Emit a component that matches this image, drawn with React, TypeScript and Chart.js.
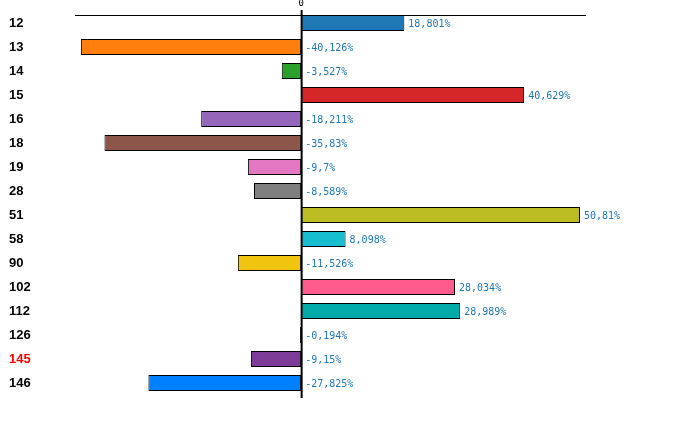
import React, { useEffect, useRef } from 'react';
import { Chart, registerables } from 'chart.js';

Chart.register(...registerables);

const categories = ['12', '13', '14', '15', '16', '18', '19', '28', '51', '58', '90', '102', '112', '126', '145', '146'];
const values = [18.801, -40.126, -3.527, 40.629, -18.211, -35.83, -9.7, -8.589, 50.81, 8.098, -11.526, 28.034, 28.989, -0.194, -9.15, -27.825];
const barColors = [
  '#1f77b4', '#ff7f0e', '#2ca02c', '#d62728', '#9467bd', '#8c564b', '#e377c2', '#7f7f7f',
  '#bcbd22', '#17becf', '#f1c40f', '#ff5a8c', '#02aba8', '#000000', '#7d3c98', '#007fff',
];
const highlighted = '145';
const xMin = -41.2;
const xMax = 51.9;

const formatValue = (v: number) => String(v).replace('.', ',') + '%';

// zero line, top rule and value labels
const overlayPlugin = {
  id: 'overlay',
  afterDatasetsDraw(chart: any) {
    const { ctx, chartArea, scales } = chart;
    const meta = chart.getDatasetMeta(0);
    const x0 = scales.x.getPixelForValue(0);
    ctx.save();

    const first = meta.data[0];
    const topY = Math.round(first.y - first.height / 2) + 0.5;
    ctx.strokeStyle = '#000';
    ctx.lineWidth = 1;
    ctx.beginPath();
    ctx.moveTo(chartArea.left, topY);
    ctx.lineTo(chartArea.right, topY);
    ctx.stroke();

    ctx.lineWidth = 2;
    ctx.beginPath();
    ctx.moveTo(x0 + 0.5, chartArea.top - 1);
    ctx.lineTo(x0 + 0.5, chartArea.bottom + 3);
    ctx.stroke();

    ctx.font = '10px "DejaVu Sans Mono", monospace';
    ctx.fillStyle = '#1f77b4';
    ctx.textAlign = 'left';
    ctx.textBaseline = 'middle';
    meta.data.forEach((bar: any, i: number) => {
      const v = values[i];
      const x = scales.x.getPixelForValue(Math.max(v, 0)) + 4;
      ctx.fillText(formatValue(v), x, bar.y + 1);
    });
    ctx.restore();
  },
};

const App: React.FC = () => {
  const canvasRef = useRef<HTMLCanvasElement>(null);
  const chartRef = useRef<Chart | null>(null);

  useEffect(() => {
    if (!canvasRef.current) return;
    if (chartRef.current) chartRef.current.destroy();

    chartRef.current = new Chart(canvasRef.current, {
      type: 'bar',
      data: {
        labels: categories,
        datasets: [
          {
            data: values,
            backgroundColor: barColors,
            borderColor: '#000',
            borderWidth: 1,
            borderSkipped: false,
            barPercentage: 0.66,
            categoryPercentage: 1,
          },
        ],
      },
      options: {
        indexAxis: 'y',
        animation: false,
        responsive: true,
        maintainAspectRatio: false,
        layout: { padding: { left: 9, right: 114, top: 0, bottom: 34 } },
        plugins: {
          legend: { display: false },
          tooltip: { enabled: false },
        },
        scales: {
          x: {
            position: 'top',
            min: xMin,
            max: xMax,
            grid: { display: false, drawTicks: false },
            border: { display: false },
            afterBuildTicks: (scale: any) => {
              scale.ticks = [{ value: 0 }];
            },
            afterFit: (scale: any) => {
              scale.height = 11;
            },
            ticks: {
              padding: 2,
              color: '#000',
              font: { family: '"DejaVu Sans Mono", monospace', size: 9 },
              callback: () => '0',
            },
          },
          y: {
            grid: { display: false, drawTicks: false },
            border: { display: false },
            afterFit: (scale: any) => {
              scale.width = 66;
            },
            ticks: {
              crossAlign: 'far',
              padding: 0,
              color: (c: any) => (categories[c.index] === highlighted ? '#ff0000' : '#000'),
              font: { family: '"Liberation Sans", Arial, sans-serif', size: 13, weight: 'bold' },
            },
          },
        },
      },
      plugins: [overlayPlugin],
    });

    return () => {
      if (chartRef.current) {
        chartRef.current.destroy();
        chartRef.current = null;
      }
    };
  }, []);

  return (
    <div style={{ position: 'fixed', left: 0, top: 0, width: 700, height: 429, background: '#fff' }}>
      <canvas ref={canvasRef} />
    </div>
  );
};

export default App;
